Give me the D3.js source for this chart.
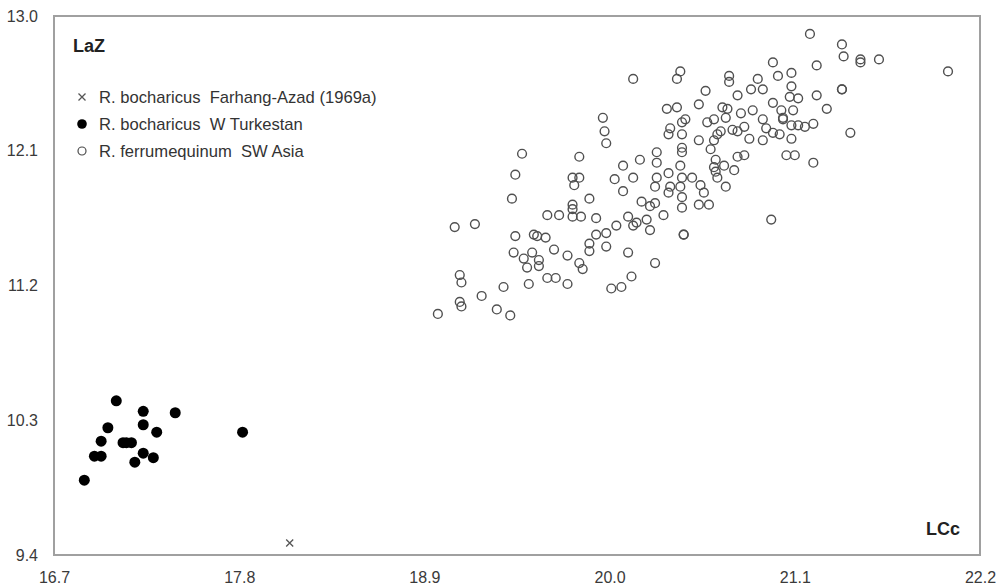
<!DOCTYPE html>
<html>
<head>
<meta charset="utf-8">
<script src="https://cdn.jsdelivr.net/npm/d3@7"></script>
<style>
  html, body { margin: 0; padding: 0; background: #fff; }
  svg { display: block; font-family: Arial, "Liberation Sans", sans-serif; }
</style>
</head>
<body>
<svg id="chart" width="1004" height="587"></svg>
<script>
// Axis ticks
const xTicks = [16.7, 17.8, 18.9, 20.0, 21.1, 22.2];
const yTicks = [9.4, 10.3, 11.2, 12.1, 13.0];

// R. bocharicus, Farhang-Azad (1969a)
const farhangLCc = [18.10];
const farhangLaZ = [9.48];

// R. bocharicus, W Turkestan
const turkLCc = [17.07, 17.23, 17.42, 17.02, 17.23, 17.31, 17.82, 16.98, 17.11, 17.16, 17.13, 16.94, 16.98, 17.23, 17.29, 17.18, 16.88];
const turkLaZ = [10.43, 10.36, 10.35, 10.25, 10.27, 10.22, 10.22, 10.16, 10.15, 10.15, 10.15, 10.06, 10.06, 10.08, 10.05, 10.02, 9.90];

// R. ferrumequinum, SW Asia
const ferrumLCc = [
  19.96, 19.97, 19.98, 19.48, 19.82, 19.44, 19.78, 19.82, 19.79, 20.03,
  19.42, 19.88, 19.78, 19.78, 19.63, 19.70, 19.78, 19.83, 19.92, 20.04,
  19.08, 19.20, 19.44, 19.55, 19.57, 19.62, 19.92, 19.98, 19.88, 19.98,
  19.67, 19.75, 19.88, 19.43, 19.54, 19.49, 19.58, 19.51, 19.58, 19.82,
  19.84, 19.11, 19.12, 19.52, 19.63, 19.68, 19.75, 19.37, 20.01, 19.24,
  19.11, 19.12, 19.33, 18.98, 19.41, 20.97, 20.42, 20.40, 20.14, 20.71,
  20.71, 20.88, 21.00, 21.08, 20.91, 20.84, 20.57, 20.76, 21.08, 21.07,
  20.97, 20.53, 20.34, 20.40, 20.67, 20.70, 20.78, 20.85, 21.02, 20.45,
  20.43, 20.58, 20.62, 20.69, 20.91, 21.03, 20.36, 20.35, 20.43, 20.66,
  20.73, 20.76, 20.80, 20.93, 20.97, 21.01, 20.53, 20.62, 20.64, 20.83,
  20.91, 20.43, 20.43, 20.28, 20.60, 20.76, 20.80, 20.18, 20.08, 20.28,
  20.63, 20.42, 20.74, 20.68, 20.62, 20.14, 20.28, 20.35, 20.43, 20.49,
  20.64, 20.63, 20.08, 20.27, 20.36, 20.42, 20.54, 20.69, 20.35, 20.56,
  20.19, 20.27, 20.43, 20.53, 20.59, 20.32, 20.43, 20.24, 20.11, 20.16,
  20.22, 20.24, 20.96, 20.44, 20.44, 20.11, 20.27, 20.13, 20.07, 20.14,
  21.19, 21.38, 21.39, 21.49, 21.49, 21.60, 22.01, 21.23, 21.38, 21.38,
  21.12, 21.23, 21.29, 21.09, 21.03, 21.08, 21.12, 21.16, 21.21, 21.43,
  21.08, 21.05, 21.10, 21.21
];
const ferrumLaZ = [
  12.32, 12.23, 12.15, 12.08, 12.06, 11.94, 11.92, 11.92, 11.87, 11.91,
  11.78, 11.78, 11.74, 11.71, 11.67, 11.67, 11.66, 11.66, 11.65, 11.60,
  11.59, 11.61, 11.53, 11.54, 11.53, 11.52, 11.54, 11.55, 11.48, 11.46,
  11.44, 11.40, 11.43, 11.42, 11.42, 11.38, 11.37, 11.32, 11.33, 11.35,
  11.31, 11.27, 11.22, 11.21, 11.25, 11.25, 11.21, 11.19, 11.18, 11.13,
  11.09, 11.06, 11.04, 11.01, 11.00, 12.69, 12.63, 12.58, 12.58, 12.60,
  12.56, 12.58, 12.60, 12.62, 12.51, 12.51, 12.50, 12.47, 12.53, 12.46,
  12.42, 12.41, 12.38, 12.39, 12.39, 12.38, 12.35, 12.37, 12.37, 12.31,
  12.29, 12.29, 12.31, 12.32, 12.31, 12.31, 12.25, 12.21, 12.21, 12.23,
  12.24, 12.23, 12.26, 12.25, 12.22, 12.21, 12.17, 12.17, 12.21, 12.18,
  12.17, 12.12, 12.09, 12.09, 12.11, 12.06, 12.07, 12.04, 12.00, 12.02,
  12.04, 12.00, 11.97, 12.00, 11.99, 11.92, 11.92, 11.95, 11.92, 11.92,
  11.92, 11.96, 11.83, 11.86, 11.86, 11.86, 11.87, 11.86, 11.82, 11.82,
  11.76, 11.75, 11.79, 11.74, 11.74, 11.67, 11.72, 11.73, 11.66, 11.62,
  11.64, 11.57, 11.64, 11.54, 11.54, 11.42, 11.35, 11.26, 11.19, 11.60,
  12.88, 12.81, 12.73, 12.71, 12.69, 12.71, 12.63, 12.67, 12.51, 12.51,
  12.45, 12.47, 12.38, 12.37, 12.32, 12.27, 12.27, 12.26, 12.28, 12.22,
  12.18, 12.07, 12.07, 12.02
];

const legendLabels = [
  "R. bocharicus  Farhang-Azad (1969a)",
  "R. bocharicus  W Turkestan",
  "R. ferrumequinum  SW Asia"
];

const svg = d3.select("#chart");
const plot = { left: 54, right: 980, top: 16, bottom: 555 };

const x = d3.scaleLinear().domain([16.7, 22.2]).range([plot.left, plot.right]);
const y = d3.scaleLinear().domain([9.4, 13.0]).range([plot.bottom, plot.top]);

// Axes (labels only, no tick marks)
const xAxis = svg.append("g")
  .attr("transform", `translate(0,${plot.bottom})`)
  .call(d3.axisBottom(x).tickValues(xTicks).tickFormat(d3.format(".1f")).tickSize(0).tickPadding(17));
const yAxis = svg.append("g")
  .attr("transform", `translate(${plot.left},0)`)
  .call(d3.axisLeft(y).tickValues(yTicks).tickFormat(d3.format(".1f")).tickSize(0).tickPadding(16));
[xAxis, yAxis].forEach(g => {
  g.select(".domain").remove();
  g.selectAll("text")
    .attr("fill", "#3a3a3a")
    .style("font-size", "16px")
    .style("font-family", "Arial, 'Liberation Sans', sans-serif");
});

// Plot frame
svg.append("rect")
  .attr("x", plot.left).attr("y", plot.top)
  .attr("width", plot.right - plot.left).attr("height", plot.bottom - plot.top)
  .attr("fill", "none").attr("stroke", "#a0a0a0").attr("stroke-width", 2);

// Axis titles inside the frame
svg.append("text").attr("x", 73).attr("y", 52)
  .attr("font-size", 18).attr("font-weight", "bold").attr("fill", "#222").text("LaZ");
svg.append("text").attr("x", 960).attr("y", 535).attr("text-anchor", "end")
  .attr("font-size", 18).attr("font-weight", "bold").attr("fill", "#222").text("LCc");

// Marker helpers
function cross(g, cx, cy, s) {
  g.append("path")
    .attr("d", `M${cx - s},${cy - s}L${cx + s},${cy + s}M${cx - s},${cy + s}L${cx + s},${cy - s}`)
    .attr("stroke", "#555").attr("stroke-width", 1.3).attr("fill", "none");
}

// Open circles: R. ferrumequinum
svg.append("g").selectAll("circle")
  .data(d3.range(ferrumLCc.length))
  .join("circle")
  .attr("cx", i => x(ferrumLCc[i]))
  .attr("cy", i => y(ferrumLaZ[i]))
  .attr("r", 4.4)
  .attr("fill", "none")
  .attr("stroke", "#505050")
  .attr("stroke-width", 1.4);

// Filled circles: R. bocharicus W Turkestan
svg.append("g").selectAll("circle")
  .data(d3.range(turkLCc.length))
  .join("circle")
  .attr("cx", i => x(turkLCc[i]))
  .attr("cy", i => y(turkLaZ[i]))
  .attr("r", 5.5)
  .attr("fill", "#000");

// Crosses: Farhang-Azad (1969a)
const crossG = svg.append("g");
farhangLCc.forEach((v, i) => cross(crossG, x(v), y(farhangLaZ[i]), 3.5));

// Legend
const legend = svg.append("g");
const legendY = [97, 124, 151];
cross(legend, 82, legendY[0], 3.5);
legend.append("circle").attr("cx", 82).attr("cy", legendY[1]).attr("r", 4.8).attr("fill", "#000");
legend.append("circle").attr("cx", 82).attr("cy", legendY[2]).attr("r", 4)
  .attr("fill", "none").attr("stroke", "#4a4a4a").attr("stroke-width", 1.2);
legendLabels.forEach((t, i) => {
  legend.append("text")
    .attr("x", 99).attr("y", legendY[i]).attr("dy", "0.35em")
    .attr("font-size", 16.6).attr("fill", "#333")
    .style("white-space", "pre")
    .text(t);
});
</script>
</body>
</html>
